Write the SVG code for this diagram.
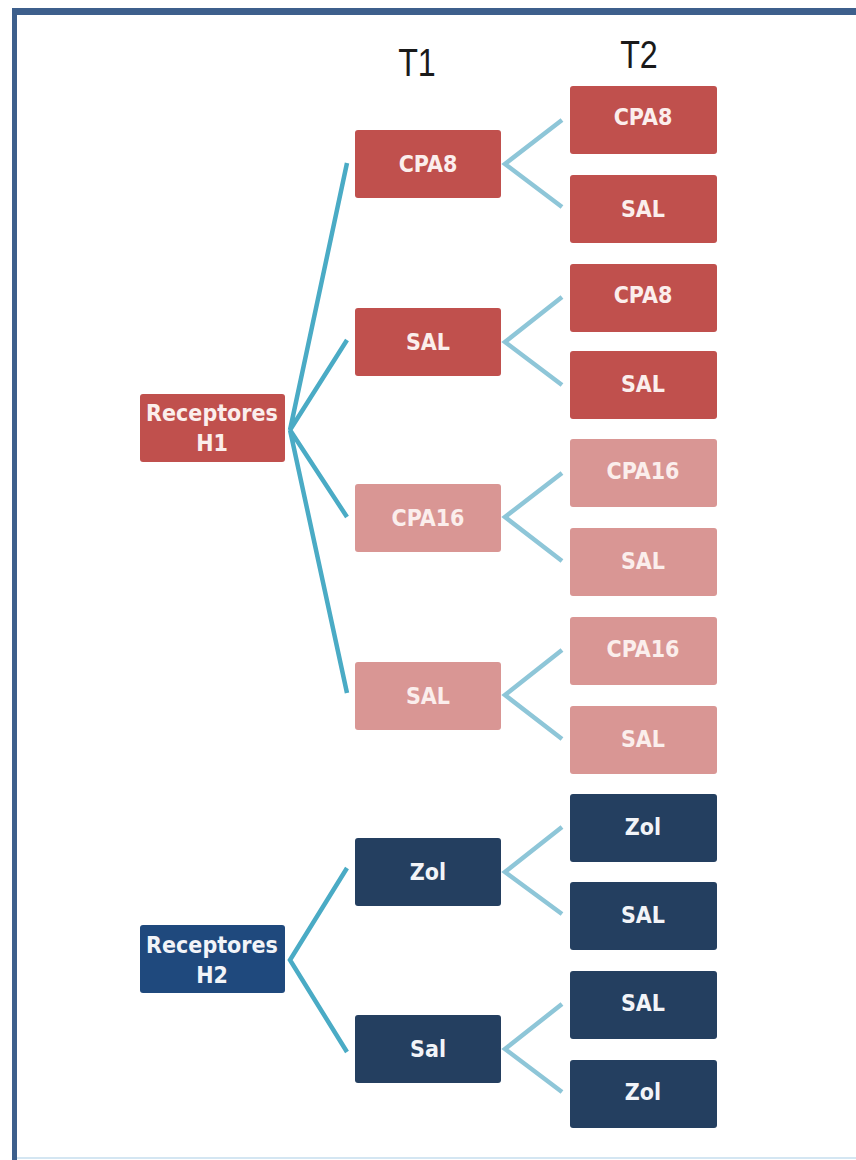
<svg xmlns="http://www.w3.org/2000/svg" width="856" height="1160" viewBox="0 0 856 1160">
<style>
.n rect{rx:3;ry:3}
.red rect{fill:#c0504d}
.pink rect{fill:#d99694}
.navy rect{fill:#243f60}
.blue rect{fill:#1f497d}
.n text{font-family:"DejaVu Sans","Open Sans",sans-serif;font-stretch:condensed;font-weight:bold;font-size:23px;fill:#fbeeec;text-anchor:middle}
.navy text,.blue text{fill:#f2f4f8}
.c1{stroke:#4aabc5;stroke-width:4.5;fill:none;stroke-linejoin:miter}
.c2{stroke:#8ec6d8;stroke-width:4.5;fill:none;stroke-linejoin:miter}
.hdr{font-family:"Liberation Sans",Arial,sans-serif;font-size:38px;fill:#1a1a1a}
</style>
<rect x="0" y="0" width="856" height="1160" fill="#ffffff"/>
<g id="frame">
<rect x="12" y="8" width="844" height="7" fill="#3d5f8c"/>
<rect x="12" y="8" width="5" height="1152" fill="#3d5f8c"/>
<rect x="17" y="1157" width="839" height="2" fill="#d4e6f2"/>
</g>
<g id="headers">
<text class="hdr" x="417" y="76" text-anchor="middle" transform="translate(417 76) scale(0.85 1) translate(-417 -76)">T1</text>
<text class="hdr" x="639" y="68" text-anchor="middle" transform="translate(639 68) scale(0.85 1) translate(-639 -68)">T2</text>
</g>
<g id="connectors">
<path class="c1" d="M347,163 L290,430 L347,340 M290,430 L347,517 M290,430 L347,693"/>
<path class="c1" d="M347,868 L290,960 L347,1052"/>
<path class="c2" d="M562,120 L505,164 L562,207"/>
<path class="c2" d="M562,297 L505,342 L562,385"/>
<path class="c2" d="M562,473 L505,517 L562,561"/>
<path class="c2" d="M562,650 L505,695 L562,739"/>
<path class="c2" d="M562,827 L505,872 L562,914"/>
<path class="c2" d="M562,1004 L505,1049 L562,1092"/>
</g>
<g id="root-h1" class="n red"><rect x="140" y="394" width="145" height="68"/><text x="212" y="421">Receptores</text><text x="212" y="451">H1</text></g>
<g id="root-h2" class="n blue"><rect x="140" y="925" width="145" height="68"/><text x="212" y="953">Receptores</text><text x="212" y="983">H2</text></g>
<g id="t1-cpa8" class="n red"><rect x="355" y="130" width="146" height="68"/><text x="428" y="172">CPA8</text></g>
<g id="t1-sal-a" class="n red"><rect x="355" y="308" width="146" height="68"/><text x="428" y="350">SAL</text></g>
<g id="t1-cpa16" class="n pink"><rect x="355" y="484" width="146" height="68"/><text x="428" y="526">CPA16</text></g>
<g id="t1-sal-b" class="n pink"><rect x="355" y="662" width="146" height="68"/><text x="428" y="704">SAL</text></g>
<g id="t1-zol" class="n navy"><rect x="355" y="838" width="146" height="68"/><text x="428" y="880">Zol</text></g>
<g id="t1-sal-c" class="n navy"><rect x="355" y="1015" width="146" height="68"/><text x="428" y="1057">Sal</text></g>
<g id="t2-1" class="n red"><rect x="570" y="86" width="147" height="68"/><text x="643" y="125">CPA8</text></g>
<g id="t2-2" class="n red"><rect x="570" y="175" width="147" height="68"/><text x="643" y="217">SAL</text></g>
<g id="t2-3" class="n red"><rect x="570" y="264" width="147" height="68"/><text x="643" y="303">CPA8</text></g>
<g id="t2-4" class="n red"><rect x="570" y="351" width="147" height="68"/><text x="643" y="392">SAL</text></g>
<g id="t2-5" class="n pink"><rect x="570" y="439" width="147" height="68"/><text x="643" y="479">CPA16</text></g>
<g id="t2-6" class="n pink"><rect x="570" y="528" width="147" height="68"/><text x="643" y="569">SAL</text></g>
<g id="t2-7" class="n pink"><rect x="570" y="617" width="147" height="68"/><text x="643" y="657">CPA16</text></g>
<g id="t2-8" class="n pink"><rect x="570" y="706" width="147" height="68"/><text x="643" y="747">SAL</text></g>
<g id="t2-9" class="n navy"><rect x="570" y="794" width="147" height="68"/><text x="643" y="835">Zol</text></g>
<g id="t2-10" class="n navy"><rect x="570" y="882" width="147" height="68"/><text x="643" y="923">SAL</text></g>
<g id="t2-11" class="n navy"><rect x="570" y="971" width="147" height="68"/><text x="643" y="1011">SAL</text></g>
<g id="t2-12" class="n navy"><rect x="570" y="1060" width="147" height="68"/><text x="643" y="1100">Zol</text></g>
</svg>
